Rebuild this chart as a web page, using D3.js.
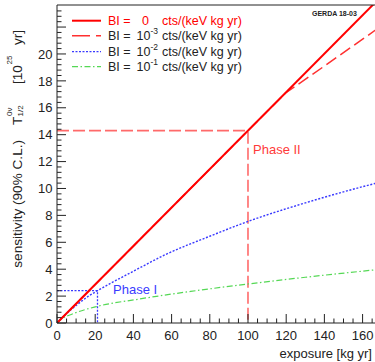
<!DOCTYPE html>
<html><head><meta charset="utf-8">
<script src="https://cdn.jsdelivr.net/npm/d3@7"></script>
<style>body{margin:0;background:#fff}svg{display:block;font-family:"Liberation Sans",Arial,sans-serif}</style>
</head><body>
<svg id="c" width="375" height="362"></svg>
<script>
// ---- data ----
const bi0X = [0, 170];
const bi0Y = [0, 24.31];
const bi3X = [0, 50, 100, 119.7, 140, 158, 170];
const bi3Y = [0, 7.15, 14.3, 17.1, 19.1, 20.9, 22.1];
const bi2X = [0, 5, 10, 16, 21.2, 30, 40, 57, 80, 100, 127, 150, 170];
const bi2Y = [0, 0.7, 1.3, 1.95, 2.4, 3.1, 3.85, 5.1, 6.45, 7.55, 8.8, 9.75, 10.5];
const bi1X = [0, 3, 8, 20, 43, 70, 100, 130, 170];
const bi1Y = [0, 0.35, 0.67, 1.2, 1.78, 2.35, 2.9, 3.4, 4.0];
const phase1 = {x: 21.2, y: 2.4};
const phase2 = {x: 100, y: 14.3};
const xTicks = [0, 20, 40, 60, 80, 100, 120, 140, 160];
const yTicks = [0, 2, 4, 6, 8, 10, 12, 14, 16, 18, 20];
const legendExp = ["0", "-3", "-2", "-1"];

const svg = d3.select("#c");
const L = 57, R = 375, T = 5, B = 323;
const x = d3.scaleLinear().domain([0, 166.5]).range([L, R]);
const y = d3.scaleLinear().domain([0, 23.64]).range([B, T]);
const fs = 13;
const lfs = 12.5;

svg.append("clipPath").attr("id", "clip").append("rect")
  .attr("x", L).attr("y", T).attr("width", R - L).attr("height", B - T);
const plot = svg.append("g").attr("clip-path", "url(#clip)");

const line = d3.line().x(d => x(d[0])).y(d => y(d[1]));
const lineC = d3.line().x(d => x(d[0])).y(d => y(d[1])).curve(d3.curveMonotoneX);
const zip = (a, b) => a.map((v, i) => [v, b[i]]);

// phase markers
const redLight = "#ff6a6a";
plot.append("path").attr("d", line([[0, phase2.y], [phase2.x, phase2.y], [phase2.x, 0]]))
  .attr("fill", "none").attr("stroke", redLight).attr("stroke-width", 1.6).attr("stroke-dasharray", "12,4");
const blueC = "#3a3aff";
plot.append("path").attr("d", line([[0, phase1.y], [phase1.x, phase1.y], [phase1.x, 0]]))
  .attr("fill", "none").attr("stroke", blueC).attr("stroke-width", 1.3).attr("stroke-dasharray", "2,1.5");

// curves
plot.append("path").attr("d", lineC(zip(bi1X, bi1Y))).attr("fill", "none")
  .attr("stroke", "#55d855").attr("stroke-width", 1.2).attr("stroke-dasharray", "6,2.5,1.5,2.5");
plot.append("path").attr("d", lineC(zip(bi2X, bi2Y))).attr("fill", "none")
  .attr("stroke", blueC).attr("stroke-width", 1.4).attr("stroke-dasharray", "2,1.6");
plot.append("path").attr("d", line(zip(bi3X, bi3Y))).attr("fill", "none")
  .attr("stroke", "#ff3030").attr("stroke-width", 1.5).attr("stroke-dasharray", "12,5");
plot.append("path").attr("d", line(zip(bi0X, bi0Y))).attr("fill", "none")
  .attr("stroke", "#ff0000").attr("stroke-width", 2);

// axes
const ax = svg.append("g").attr("stroke", "#222").attr("stroke-width", 1);
ax.append("line").attr("x1", L).attr("x2", L).attr("y1", T).attr("y2", B);
ax.append("line").attr("x1", L).attr("x2", R).attr("y1", B).attr("y2", B);
ax.append("line").attr("x1", L).attr("x2", R).attr("y1", T).attr("y2", T);
d3.range(0, 166.5, 5).forEach(v => {
  const major = v % 20 === 0;
  ax.append("line").attr("x1", x(v)).attr("x2", x(v)).attr("y1", B).attr("y2", B - (major ? 9 : 4.5));
});
d3.range(0, 23.6, 0.4).forEach(v => {
  const major = Math.abs(v / 2 - Math.round(v / 2)) < 1e-6;
  ax.append("line").attr("x1", L).attr("x2", L + (major ? 9 : 4.5)).attr("y1", y(v)).attr("y2", y(v));
});
svg.append("g").selectAll("text").data(xTicks).join("text")
  .attr("x", d => x(d)).attr("y", B + 17).attr("text-anchor", "middle")
  .attr("font-size", fs).attr("fill", "#222").text(d => d);
svg.append("g").selectAll("text").data(yTicks).join("text")
  .attr("x", L - 4.5).attr("y", d => y(d) + 4.7).attr("text-anchor", "end")
  .attr("font-size", fs).attr("fill", "#222").text(d => d);

svg.append("text").attr("x", 372).attr("y", 358).attr("text-anchor", "end")
  .attr("font-size", fs).attr("fill", "#222").text("exposure [kg yr]");

// y title (rotated)
const tfs = 13.6;
const yt = svg.append("g").attr("transform", "translate(21.5,0) rotate(-90)")
  .attr("fill", "#222");
yt.append("text").attr("x", -140).attr("y", 0).attr("text-anchor", "end").attr("font-size", tfs).text("sensitivity (90% C.L.)");
yt.append("text").attr("x", -125).attr("y", 0).attr("font-size", tfs).text("T");
yt.append("text").attr("x", -116).attr("y", -10).attr("font-size", 8).text("0ν");
yt.append("text").attr("x", -116.5).attr("y", 1.5).attr("font-size", 8).text("1/2");
yt.append("text").attr("x", -84).attr("y", 0).attr("font-size", tfs).text("[10");
yt.append("text").attr("x", -64.5).attr("y", -9.5).attr("font-size", 8).text("25");
yt.append("text").attr("x", -30).attr("y", 0).attr("text-anchor", "end").attr("font-size", tfs).text("yr]");

// legend
const legY = [20.7, 35.7, 51.7, 66.7];
const legStyles = [
  {c: "#ff0000", w: 2, d: null},
  {c: "#ff3030", w: 1.5, d: "18,6"},
  {c: blueC, w: 1.3, d: "2,1.5"},
  {c: "#55d855", w: 1.2, d: "6,2.5,1.5,2.5"}
];
legY.forEach((ly, i) => {
  const s = legStyles[i];
  svg.append("line").attr("x1", 72).attr("x2", 101).attr("y1", ly).attr("y2", ly)
    .attr("stroke", s.c).attr("stroke-width", s.w).attr("stroke-dasharray", s.d);
  const col = i === 0 ? "#ff0000" : "#222";
  svg.append("text").attr("x", 108).attr("y", ly + 4.6).attr("font-size", lfs).attr("fill", col).text("BI =");
  if (i === 0) {
    svg.append("text").attr("x", 142).attr("y", ly + 4.6).attr("font-size", lfs).attr("fill", col).text(legendExp[i]);
  } else {
    svg.append("text").attr("x", 136.5).attr("y", ly + 4.6).attr("font-size", lfs).attr("fill", col).text("10");
    svg.append("text").attr("x", 150.5).attr("y", ly - 2).attr("font-size", 8.5).attr("fill", col).text(legendExp[i]);
  }
  svg.append("text").attr("x", 162).attr("y", ly + 4.6).attr("font-size", lfs).attr("fill", col).text("cts/(keV kg yr)");
});

svg.append("text").attr("x", 312).attr("y", 15.5).attr("font-size", 7).attr("font-weight", "bold")
  .attr("fill", "#222").text("GERDA 18-03");

svg.append("text").attr("x", 253).attr("y", 154).attr("font-size", fs).attr("fill", "#ff3a3a").text("Phase II");
svg.append("text").attr("x", 113).attr("y", 294).attr("font-size", fs).attr("fill", blueC).text("Phase I");
</script>
</body></html>
